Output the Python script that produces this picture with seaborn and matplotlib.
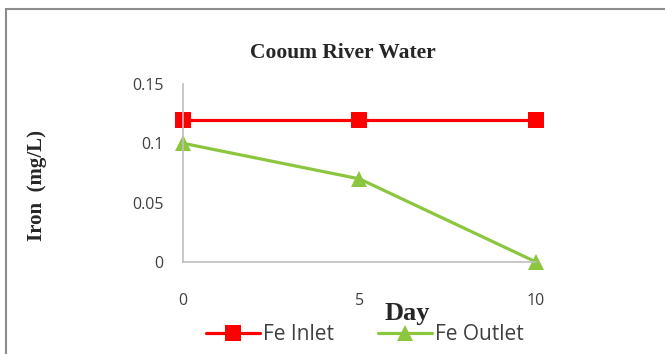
import seaborn as sns
import pandas as pd
import matplotlib.pyplot as plt
from matplotlib.patches import Rectangle

# Data
days = [0, 5, 10]
fe_inlet = [0.12, 0.12, 0.12]
fe_outlet = [0.10, 0.07, 0.0]

df = pd.DataFrame({
    "Day": days * 2,
    "Iron": fe_inlet + fe_outlet,
    "Series": ["Fe Inlet"] * 3 + ["Fe Outlet"] * 3,
})

sns.set_style("white")
plt.rcParams['font.family'] = ['Open Sans', 'DejaVu Sans']

fig = plt.figure(figsize=(6.65, 3.54), dpi=100)
ax = fig.add_axes([0.275, 0.26, 0.531, 0.503])

# Plot lines
sns.lineplot(data=df, x="Day", y="Iron", hue="Series", style="Series",
             palette={"Fe Inlet": "#ff0000", "Fe Outlet": "#8cc63f"},
             markers={"Fe Inlet": "s", "Fe Outlet": "^"},
             dashes=False, linewidth=2.3, markersize=11, markeredgewidth=0,
             ax=ax, clip_on=False)

ax.set_xlim(0, 10)
ax.set_ylim(0, 0.15)
ax.set_xticks([0, 5, 10])
ax.set_yticks([0, 0.05, 0.1, 0.15])
ax.set_yticklabels(["0", "0.05", "0.1", "0.15"])
ax.tick_params(length=0, labelsize=11.5, labelcolor="#404040")
ax.tick_params(axis="y", pad=14)
ax.tick_params(axis="x", pad=22)

for side in ["top", "right"]:
    ax.spines[side].set_visible(False)
for side in ["left", "bottom"]:
    ax.spines[side].set_color("#bfbfbf")
    ax.spines[side].set_linewidth(1.2)

# Labels
serif = ["Liberation Serif", "DejaVu Serif"]
ax.set_xlabel("Day", family=serif, fontweight="bold", fontsize=19)
ax.xaxis.set_label_coords(0.635, -0.225)
ax.set_ylabel("Iron  (mg/L)", family=serif, fontweight="bold", fontsize=15)
ax.yaxis.set_label_coords(-0.385, 0.43)
ax.set_title("Cooum River Water", family=serif, fontweight="bold", fontsize=15.5,
             x=0.453, y=1.10)

# Legend
ax.get_legend().remove()
handles, labels = ax.get_legend_handles_labels()
fig.legend(handles, labels, loc="center", bbox_to_anchor=(0.549, 0.054), ncol=2,
           frameon=False, fontsize=15, handlelength=2.6, columnspacing=2.1,
           handletextpad=0.15, labelcolor="#404040")

# Chart border
fig.patches.append(Rectangle((0.009, -0.1), 1.1, 1.074, transform=fig.transFigure,
                             fill=False, edgecolor="#8c8c8c", linewidth=1.5))

plt.savefig("out.png", dpi=100)
